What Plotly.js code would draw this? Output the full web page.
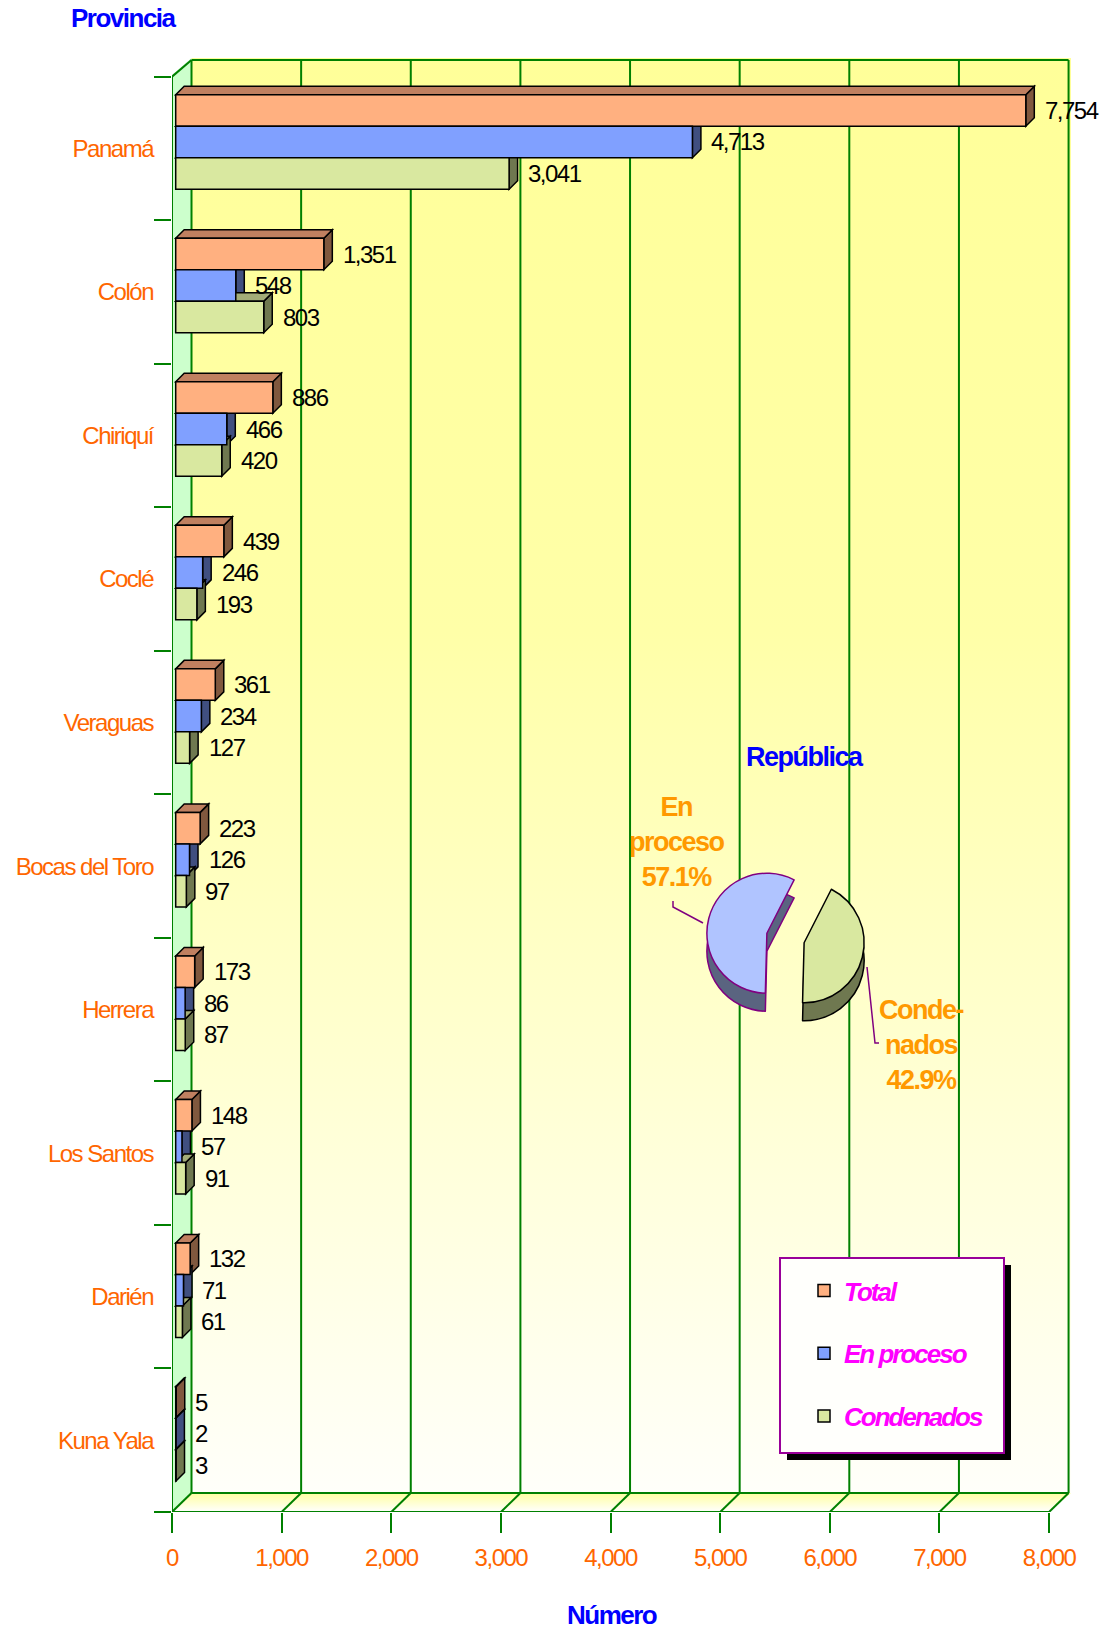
<!DOCTYPE html>
<html><head><meta charset="utf-8">
<script src="https://cdn.plot.ly/plotly-3.0.1.min.js"></script>
<style>html,body{margin:0;padding:0;background:#fff}#chart{width:1119px;height:1631px}
svg text{letter-spacing:-1.5px}
.legend text{letter-spacing:-2px}
</style>
</head><body><div id="chart"></div>
<script>
// ---------------- data ----------------
const provincias = ['Panamá','Colón','Chiriquí','Coclé','Veraguas','Bocas del Toro','Herrera','Los Santos','Darién','Kuna Yala'];
const total      = [7754,1351,886,439,361,223,173,148,132,5];
const enProceso  = [4713,548,466,246,234,126,86,57,71,2];
const condenados = [3041,803,420,193,127,97,87,91,61,3];
const xTickVals  = [0,1000,2000,3000,4000,5000,6000,7000,8000];
const seriesNames = ['Total','En proceso','Condenados'];
const pieLabels = ['Condenados','En proceso'];

// ---------------- geometry / style ----------------
const FONT = "'Liberation Sans Narrow','Arial Narrow','Liberation Sans',Arial,sans-serif";
const W=1119, H=1631, M={l:172,r:48,t:58,b:119};
const plotW=W-M.l-M.r, plotH=H-M.t-M.b;
const XMAX=8200, YMAX=10.13;
const pxX=plotW/XMAX, pxY=plotH/YMAX;
const ux=p=>p/pxX, uy=p=>p/pxY;
const WX=ux(19.5), WY=uy(19), YTOP=YMAX-uy(2), YFRONT=10;
const BX=ux(8.5), BY=uy(8.5);
const BASE=ux(3.7);
const BARW=uy(31.5);
const OFF=[uy(22.2), uy(22.2-31.5), uy(22.2-63)];
const GREEN='#008000';
const front=['#ffb080','#80a0ff','#d9e8a0'];
const topC =['#c08060','#6078c0','#a3ad78'];
const sideC=['#80583e','#404f80','#6f7850'];
const series=[total,enProceso,condenados];
const centers=provincias.map((_,i)=>provincias.length-0.5-i);
const P=(px,py)=>({x:(px-M.l)/plotW, y:(H-M.b-py)/plotH});

// ---------------- background image (walls) ----------------
const svg=`<svg xmlns="http://www.w3.org/2000/svg" width="${plotW}" height="${plotH}" viewBox="0 0 ${plotW} ${plotH}" preserveAspectRatio="none">
<defs><linearGradient id="bw" x1="0" y1="0" x2="0" y2="1"><stop offset="0" stop-color="#ffff99"/><stop offset="0.4" stop-color="#ffffa8"/><stop offset="0.75" stop-color="#ffffd8"/><stop offset="1" stop-color="#fffffa"/></linearGradient>
<linearGradient id="fl" x1="0" y1="0" x2="0" y2="1"><stop offset="0" stop-color="#ffffa0"/><stop offset="1" stop-color="#ffffff"/></linearGradient></defs>
<rect x="19.5" y="0" width="${plotW-19.5}" height="${plotH-19}" fill="url(#bw)"/>
<polygon points="0,17 19.5,0 19.5,${plotH-19} 0,${plotH}" fill="#ccffcc"/>
<polygon points="0,${plotH} 19.5,${plotH-19} ${plotW},${plotH-19} ${8000*pxX},${plotH}" fill="url(#fl)"/>
</svg>`;
const bgImage={source:'data:image/svg+xml;base64,'+btoa(svg),xref:'paper',yref:'paper',x:0,y:1,sizex:1,sizey:1,sizing:'stretch',xanchor:'left',yanchor:'top',layer:'below'};

// ---------------- shapes ----------------
const shapes=[];
const ln=(x0,y0,x1,y1)=>({type:'line',xref:'x',yref:'y',x0,y0,x1,y1,line:{color:GREEN,width:2},layer:'below'});
xTickVals.forEach(v=>{
  shapes.push(ln(v+WX,WY,v+WX,YTOP));       // back wall gridline
  shapes.push(ln(v,0,v+WX,WY));             // floor diagonal
});
const XEND=xTickVals[xTickVals.length-1];
shapes.push(ln(WX,YTOP,XEND+WX,YTOP));
shapes.push(ln(WX,WY,XEND+WX,WY));
shapes.push(ln(0,0,XEND,0));
shapes.push(ln(0,0,0,YFRONT));
shapes.push(ln(0,YFRONT,WX,YTOP));
// 3D faces of bars: sides first, then tops
const faces=[[],[]];
series.forEach((vals,s)=>{
  vals.forEach((v,i)=>{
    const yb=centers[i]+OFF[s], yt=yb+BARW, x0=BASE, x1=BASE+v;
    faces[0].push({type:'path',xref:'x',yref:'y',layer:'below',fillcolor:sideC[s],line:{color:'#000',width:1.5},
      path:`M${x1},${yb} L${x1},${yt} L${x1+BX},${yt+BY} L${x1+BX},${yb+BY} Z`});
    faces[1].push({type:'path',xref:'x',yref:'y',layer:'below',fillcolor:topC[s],line:{color:'#000',width:1.5},
      path:`M${x0},${yt} L${x1},${yt} L${x1+BX},${yt+BY} L${x0+BX},${yt+BY} Z`});
  });
});
shapes.push(...faces[0],...faces[1]);
// legend box + shadow
const lb0=P(780,1258), lb1=P(1004,1453), sh0=P(787,1265), sh1=P(1011,1460);
shapes.push({type:'rect',xref:'paper',yref:'paper',x0:sh0.x,y0:sh0.y,x1:sh1.x,y1:sh1.y,fillcolor:'#000',line:{width:0},layer:'above'});
shapes.push({type:'rect',xref:'paper',yref:'paper',x0:lb0.x,y0:lb0.y,x1:lb1.x,y1:lb1.y,fillcolor:'#fffffc',line:{color:'#990099',width:2},layer:'above'});
// pie leader lines
const lp=(pts)=>({type:'path',xref:'paper',yref:'paper',layer:'above',line:{color:'#800080',width:1.5},
  path:pts.map((p,k)=>{const q=P(p[0],p[1]);return (k?'L':'M')+q.x+','+q.y;}).join(' ')});
shapes.push(lp([[673,901],[673,907],[703,923]]));
shapes.push(lp([[867,967],[875,1043],[879,1043]]));

// ---------------- traces ----------------
const traces=series.map((vals,s)=>({
  type:'bar',orientation:'h',name:seriesNames[s],legendgroup:seriesNames[s],
  y:centers,x:vals,base:BASE,width:BARW,offset:OFF[s],
  marker:{color:front[s],line:{color:'#000',width:1.5}},hoverinfo:'x'
}));
const sumEn=enProceso.reduce((a,b)=>a+b,0), sumCo=condenados.reduce((a,b)=>a+b,0), sumAll=sumEn+sumCo;
const pieVals=[sumCo,sumEn];
const pc={x:(785.5-M.l)/plotW, y:(H-M.b-938)/plotH};
const ph={x:79.2/plotW, y:79.2/plotH}, depth=18/plotH;
const pieBase={type:'pie',labels:pieLabels,values:pieVals,sort:false,direction:'clockwise',rotation:27,
  pull:[0.32,0.32],textinfo:'none',hoverinfo:'none',showlegend:false};
traces.push(Object.assign({},pieBase,{domain:{x:[pc.x-ph.x,pc.x+ph.x],y:[pc.y-ph.y-depth,pc.y+ph.y-depth]},
  marker:{colors:['#6f7850','#5a6480'],line:{color:['#000','#800080'],width:1.5}}}));
traces.push(Object.assign({},pieBase,{domain:{x:[pc.x-ph.x,pc.x+ph.x],y:[pc.y-ph.y,pc.y+ph.y]},
  marker:{colors:['#d9e8a0','#b0c4ff'],line:{color:['#000','#800080'],width:1.5}}}));

// ---------------- annotations ----------------
const ann=[];
series.forEach((vals,s)=>vals.forEach((v,i)=>{
  ann.push({xref:'x',yref:'y',x:BASE+v,y:centers[i]+OFF[s]+BARW/2,xanchor:'left',yanchor:'middle',xshift:17,
    text:v.toLocaleString('en-US'),showarrow:false,font:{family:FONT,size:24,color:'#000'}});
}));
const A=(px,py,text,font,extra)=>{const q=P(px,py);return Object.assign({xref:'paper',yref:'paper',x:q.x,y:q.y,text,showarrow:false,font,xanchor:'center',yanchor:'middle'},extra||{});};
ann.push(A(124,18,'Provincia',{family:FONT,size:26,color:'#0000ff',weight:'bold'}));
ann.push(A(612,1615,'Número',{family:FONT,size:26,color:'#0000ff',weight:'bold'}));
ann.push(A(805,757,'República',{family:FONT,size:27,color:'#0000ff',weight:'bold'}));
const pct=v=>(v/sumAll*100).toFixed(1)+'%';
ann.push(A(677,842,'En<br>proceso<br>'+pct(sumEn),{family:FONT,size:27,color:'#ff9900',weight:'bold'}));
ann.push(A(921,1045,'Conde-<br>nados<br>'+pct(sumCo),{family:FONT,size:27,color:'#ff9900',weight:'bold'}));

const lg=P(804,1267);
const layout={
  width:W,height:H,margin:M,paper_bgcolor:'#fff',plot_bgcolor:'rgba(0,0,0,0)',
  barmode:'overlay',showlegend:true,
  legend:{x:lg.x,y:lg.y,xanchor:'left',yanchor:'top',bgcolor:'rgba(0,0,0,0)',borderwidth:0,
    font:{family:FONT,size:26,color:'#ff00ff',style:'italic',weight:'bold'},tracegroupgap:26,traceorder:'grouped'},
  xaxis:{range:[0,XMAX],tickmode:'array',tickvals:xTickVals,ticktext:xTickVals.map(v=>v.toLocaleString('en-US')),
    ticks:'outside',ticklen:20,tickwidth:2,tickcolor:GREEN,showgrid:false,zeroline:false,showline:false,
    tickfont:{family:FONT,size:24,color:'#ff6600'},ticklabelstandoff:4,fixedrange:true},
  yaxis:{range:[0,YMAX],tickmode:'array',tickvals:centers,ticktext:provincias,ticks:'',showgrid:false,zeroline:false,showline:false,
    tickfont:{family:FONT,size:24,color:'#ff6600'},ticklabelstandoff:18,fixedrange:true,
    minor:{tickmode:'array',tickvals:provincias.map((_,i)=>i).concat([provincias.length]),ticks:'outside',ticklen:17,tickwidth:2,tickcolor:GREEN,showgrid:false}},
  images:[bgImage],shapes,annotations:ann
};
Plotly.newPlot('chart',traces,layout,{displayModeBar:false,staticPlot:true});
</script></body></html>
